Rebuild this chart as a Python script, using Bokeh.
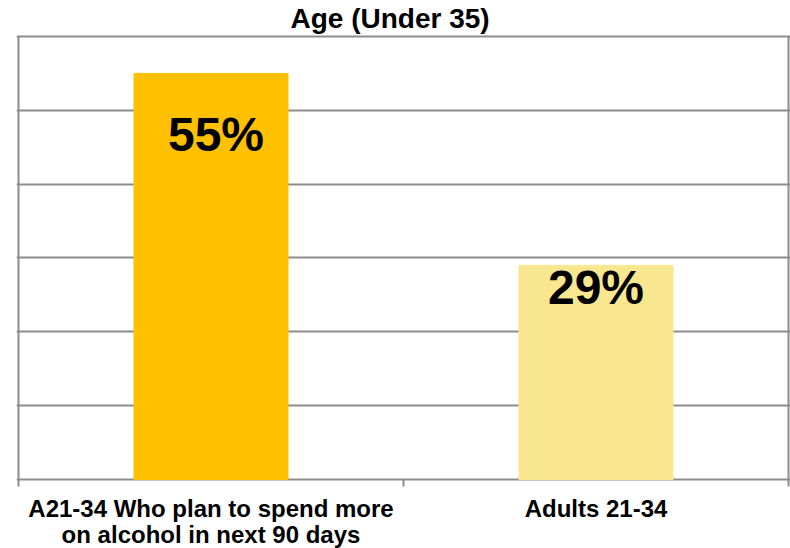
from bokeh.plotting import figure
from bokeh.models import FixedTicker, Range1d, ColumnDataSource
from bokeh.core.properties import value
from bokeh.embed import file_html
from bokeh.resources import INLINE

# ---- data ----
categories = ["A21-34 Who plan to spend more\non alcohol in next 90 days", "Adults 21-34"]
values = [55, 29]
value_labels = ["55%", "29%"]
bar_colors = ["#FFC000", "#F9E790"]
y_ticks = [0, 10, 20, 30, 40, 50, 60]

# ---- styling / placement (not data) ----
label_offsets = [8.3, 3.0]   # value label drop below bar top (% units)
label_dx = [5, 0]            # small horizontal nudge in px
Y_MIN = -9.35                # frame extends below 0 to hold the category texts
Y_MAX = 60.27                # small pad so the top line is not clipped
X_PAD = 0.0052               # small pad so the side borders are not clipped
CAT_Y = -2.17                # top of category texts
TICK_LEN = 0.95              # length of the separator ticks below the axis (% units)

n = len(categories)
x_pos = [i + 0.5 for i in range(n)]
label_y = [v - o for v, o in zip(values, label_offsets)]
bounds_x = list(range(n + 1))
bounds_top = [y_ticks[-1] if b in (0, n) else 0 for b in bounds_x]

src = ColumnDataSource(dict(x=x_pos, top=values, color=bar_colors,
                            ly=label_y, txt=value_labels, dx=label_dx))
cat_src = ColumnDataSource(dict(x=x_pos, y=[CAT_Y] * n, text=categories))
sep_src = ColumnDataSource(dict(x=bounds_x, y0=[-TICK_LEN] * (n + 1), y1=bounds_top))

FONT = "Liberation Sans"
GRID = "#8c8c8c"

p = figure(width=790, height=548, output_backend="svg", toolbar_location=None,
           x_range=Range1d(-X_PAD, n + X_PAD), y_range=Range1d(Y_MIN, Y_MAX),
           min_border_left=16, min_border_right=0, min_border_top=34,
           min_border_bottom=0, title="Age (Under 35)")
p.axis.visible = False
p.outline_line_color = None
p.xgrid.visible = False

p.ygrid.ticker = FixedTicker(ticks=y_ticks)
p.ygrid.grid_line_color = GRID
p.ygrid.grid_line_width = 2

p.segment(x0="x", x1="x", y0="y0", y1="y1", source=sep_src,
          line_color=GRID, line_width=2)

p.vbar(x="x", top="top", width=0.4, bottom=0, color="color", source=src)
p.text(x="x", y="ly", text="txt", source=src, x_offset="dx", text_align="center",
       text_baseline="middle", text_font=value(FONT), text_font_style="bold",
       text_font_size="48px", text_color="black")
p.text(x="x", y="y", text="text", source=cat_src, text_align="center",
       text_baseline="top", text_font=value(FONT), text_font_style="bold",
       text_font_size="24px", text_color="black", text_line_height=0.94)

p.title.text_font = FONT
p.title.text_font_size = "28px"
p.title.text_font_style = "bold"
p.title.align = "left"
p.title.offset = 274
p.title.standoff = 1
p.title.text_color = "black"

p.background_fill_color = "white"
p.border_fill_color = "white"

open("out.html", "w").write(file_html(p, INLINE))
